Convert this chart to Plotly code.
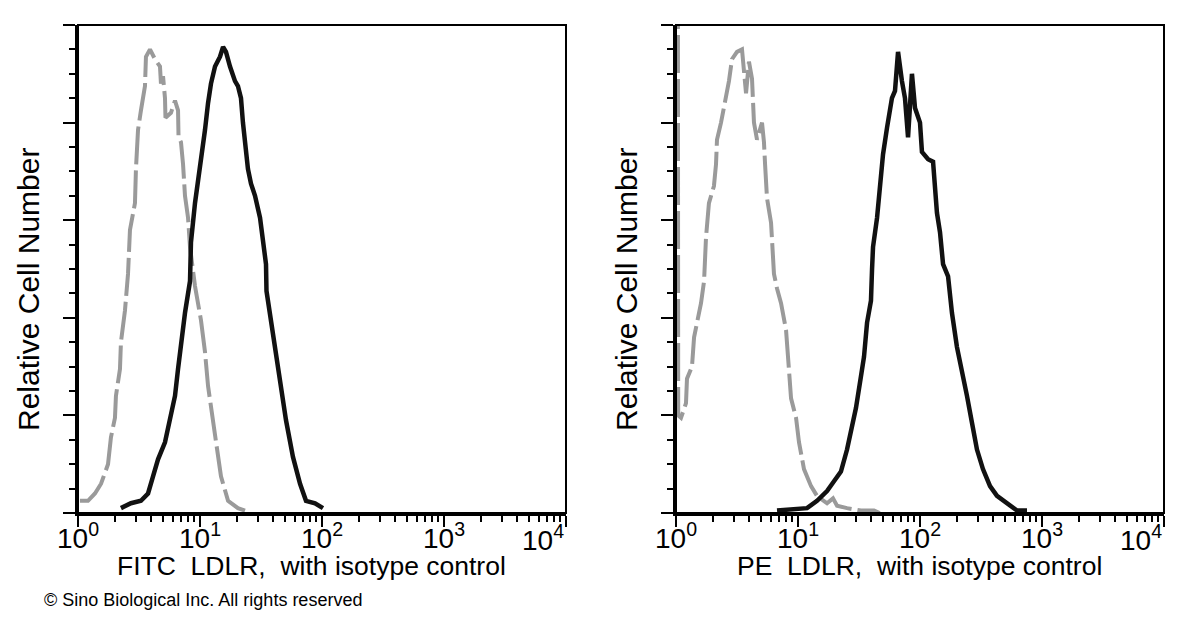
import plotly.graph_objects as go

# log10 of fluorescence intensity / relative cell counts
fitc_iso_log = [0.016, 0.082, 0.139, 0.189, 0.246, 0.270, 0.303, 0.311, 0.344, 0.352, 0.385, 0.410,
                0.426, 0.467, 0.475, 0.492, 0.516, 0.549, 0.557, 0.590, 0.631, 0.672, 0.680, 0.697,
                0.713, 0.717, 0.762, 0.795, 0.820, 0.824, 0.844, 0.861, 0.877, 0.902, 0.918, 0.943,
                0.959, 1.008, 1.041, 1.066, 1.107, 1.148, 1.172, 1.230, 1.311, 1.369]
fitc_iso_count = [5, 5, 8, 12, 20, 31, 39, 48, 59, 70, 83, 98,
                  116, 127, 141, 157, 165, 175, 187, 190, 186, 183, 176, 179,
                  170, 162, 164, 169, 165, 154, 152, 143, 130, 121, 109, 100,
                  93, 79, 66, 52, 38, 25, 15, 5, 2, 1]

fitc_ldlr_log = [0.352, 0.434, 0.516, 0.574, 0.615, 0.656, 0.713, 0.754, 0.795, 0.820, 0.844, 0.877,
                 0.918, 0.926, 0.959, 1.000, 1.041, 1.066, 1.090, 1.123, 1.164, 1.189, 1.213, 1.246,
                 1.287, 1.311, 1.336, 1.352, 1.369, 1.393, 1.418, 1.451, 1.492, 1.516, 1.541, 1.545,
                 1.582, 1.623, 1.664, 1.705, 1.762, 1.820, 1.869, 1.943, 2.008]
fitc_ldlr_count = [2, 4, 5, 8, 15, 22, 29, 39, 48, 59, 70, 82,
                   95, 111, 127, 141, 157, 168, 176, 183, 187, 191, 189, 183,
                   177, 175, 170, 160, 150, 141, 135, 130, 121, 113, 102, 91,
                   79, 66, 52, 38, 23, 12, 5, 4, 2]

pe_iso_log = [0.015, 0.018, 0.041, 0.082, 0.090, 0.131, 0.148, 0.172, 0.205, 0.230, 0.246, 0.270,
              0.311, 0.328, 0.336, 0.369, 0.393, 0.434, 0.459, 0.500, 0.541, 0.574, 0.598, 0.623,
              0.639, 0.664, 0.705, 0.721, 0.730, 0.746, 0.779, 0.787, 0.803, 0.828, 0.861, 0.902,
              0.926, 0.943, 0.984, 1.008, 1.049, 1.107, 1.156, 1.238, 1.287, 1.320, 1.402, 1.516,
              1.623, 1.670]
pe_iso_count = [250, 40, 39, 45, 55, 60, 72, 78, 86, 95, 113, 127,
                134, 143, 153, 160, 166, 177, 186, 189, 190, 172, 185, 178,
                160, 153, 160, 152, 143, 129, 119, 109, 98, 92, 86, 75,
                59, 47, 39, 29, 18, 11, 7, 4, 6, 3, 2, 1,
                1, 0]

pe_ldlr_log = [0.828, 1.074, 1.156, 1.238, 1.295, 1.352, 1.402, 1.443, 1.475, 1.516, 1.541, 1.566,
               1.598, 1.607, 1.615, 1.648, 1.672, 1.697, 1.730, 1.770, 1.795, 1.820, 1.852, 1.877,
               1.902, 1.934, 1.959, 2.000, 2.016, 2.066, 2.107, 2.139, 2.164, 2.189, 2.230, 2.262,
               2.303, 2.344, 2.385, 2.426, 2.467, 2.516, 2.574, 2.631, 2.713, 2.795, 2.877]
pe_ldlr_count = [1, 2, 5, 9, 13, 17, 26, 35, 43, 56, 64, 78,
                 87, 100, 109, 121, 136, 147, 158, 170, 173, 189, 177, 170,
                 154, 180, 166, 160, 148, 145, 144, 123, 115, 102, 97, 82,
                 68, 59, 48, 37, 26, 18, 11, 7, 4, 1, 1]

tick_vals = [1, 10, 100, 1000, 10000]
tick_text = ["10<sup>0</sup>", "10<sup>1</sup>", "10<sup>2</sup>", "10<sup>3</sup>", ""]
last_tick_text = "10<sup>4</sup>"   # drawn right-aligned at the frame edge
x_titles = ["FITC  LDLR,  with isotype control", "PE  LDLR,  with isotype control"]
y_title = "Relative Cell Number"

FONT = "Liberation Sans, Arial, Helvetica, sans-serif"
GRAY = "#9a9a9a"
BLACK = "#111111"

fig = go.Figure()

panels = [
    (fitc_iso_log, fitc_iso_count, fitc_ldlr_log, fitc_ldlr_count, "x", "y"),
    (pe_iso_log, pe_iso_count, pe_ldlr_log, pe_ldlr_count, "x2", "y2"),
]
for iso_x, iso_y, ab_x, ab_y, xa, ya in panels:
    fig.add_trace(go.Scatter(
        x=[10 ** v for v in iso_x], y=iso_y, mode="lines",
        line=dict(color=GRAY, width=4, dash="38px,6px"),
        xaxis=xa, yaxis=ya, showlegend=False
    ))
    fig.add_trace(go.Scatter(
        x=[10 ** v for v in ab_x], y=ab_y, mode="lines",
        line=dict(color=BLACK, width=4.5),
        xaxis=xa, yaxis=ya, showlegend=False
    ))

# the page body adds an 8px margin on each side; shrink the figure so it fits the window
OFF = 8
W, H = 1185 - 2 * OFF, 620 - 2 * OFF
px = lambda v: (v - OFF) / W
py = lambda v: (H - (v - OFF)) / H

xdoms = [[px(78), px(566)], [px(676), px(1164)]]
ydom = [py(513), py(25)]

xaxis_common = dict(
    type="log", range=[0, 4], tickvals=tick_vals, ticktext=tick_text,
    ticks="outside", ticklen=11, tickwidth=2, tickcolor="black",
    minor=dict(ticks="outside", ticklen=6, tickwidth=2, tickcolor="black", dtick="D1"),
    showline=True, linewidth=3, linecolor="black", showgrid=False, zeroline=False,
    tickfont=dict(family=FONT, size=28, color="black"), automargin=False,
    ticklabelstandoff=-13, ticklabeloverflow="allow",
)
yaxis_common = dict(
    range=[0, 200], dtick=40, showticklabels=False,
    ticks="outside", ticklen=12, tickwidth=2, tickcolor="black",
    minor=dict(ticks="outside", ticklen=6, tickwidth=2, tickcolor="black", dtick=10),
    showline=True, linewidth=3, linecolor="black", showgrid=False, zeroline=False,
    domain=ydom, automargin=False,
)

fig.update_layout(
    width=W, height=H,
    margin=dict(l=0, r=0, t=0, b=0),
    paper_bgcolor="white", plot_bgcolor="white",
    xaxis=dict(xaxis_common, domain=xdoms[0], anchor="y"),
    yaxis=dict(yaxis_common, anchor="x"),
    xaxis2=dict(xaxis_common, domain=xdoms[1], anchor="y2"),
    yaxis2=dict(yaxis_common, anchor="x2"),
)

# thin top/right frame of each panel
for xr, yr in [("x domain", "y domain"), ("x2 domain", "y2 domain")]:
    fig.add_shape(type="rect", xref=xr, yref=yr, x0=0, x1=1, y0=0, y1=1,
                  line=dict(color="black", width=2), layer="above")

# last decade label, kept inside the frame like the original
for xr in ["x", "x2"]:
    fig.add_annotation(text=last_tick_text, xref=xr, yref="paper", x=4, y=py(538),
                       xanchor="right", yanchor="middle", showarrow=False,
                       font=dict(family=FONT, size=28, color="black"))

# axis titles
for cx, title in zip([311, 919], x_titles):
    fig.add_annotation(text=title, xref="paper", yref="paper", x=px(cx), y=py(566),
                       xanchor="center", yanchor="middle", showarrow=False,
                       font=dict(family=FONT, size=26.5, color="black"))
for cx in [28, 626]:
    fig.add_annotation(text=y_title, xref="paper", yref="paper", x=px(cx), y=py(290),
                       xanchor="center", yanchor="middle", showarrow=False, textangle=-90,
                       font=dict(family=FONT, size=30, color="black"))

fig.add_annotation(
    text="© Sino Biological Inc. All rights reserved", xref="paper", yref="paper",
    x=px(42), y=0, xanchor="left", yanchor="bottom", showarrow=False,
    font=dict(family=FONT, size=18, color="black")
)

fig.write_html("out.html")
